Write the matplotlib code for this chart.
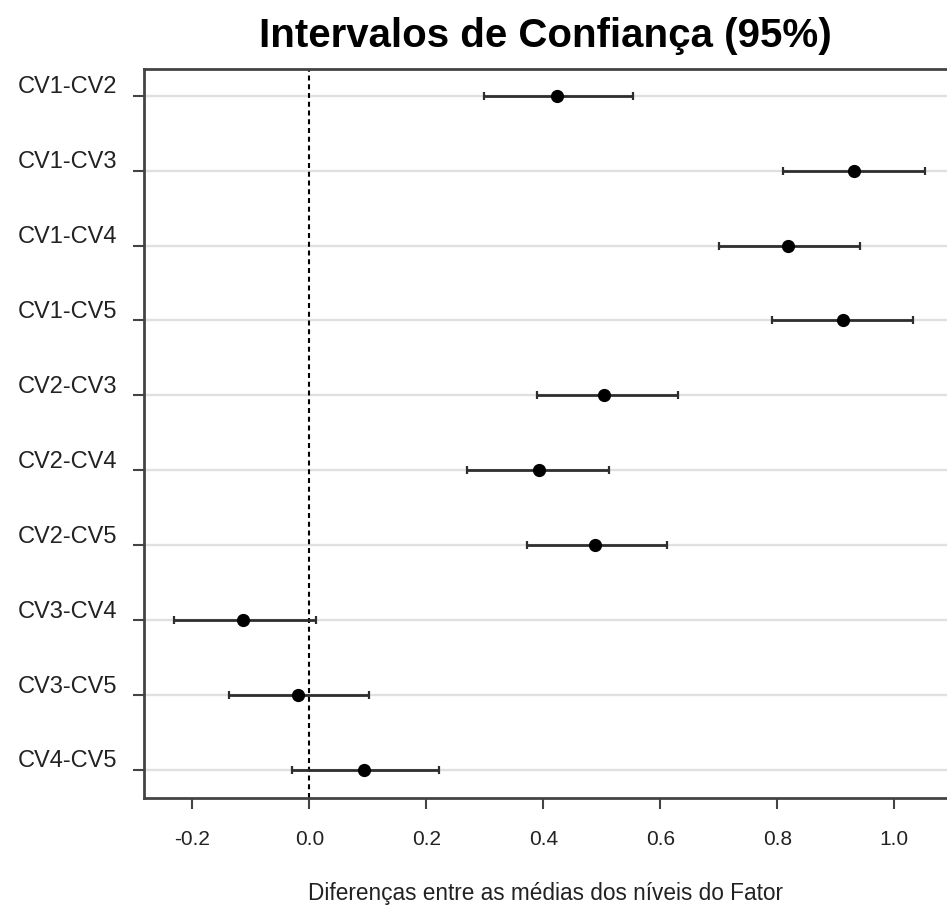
import numpy as np
import matplotlib.pyplot as plt
from matplotlib.transforms import ScaledTranslation

plt.rcParams['font.family'] = ['Liberation Sans', 'DejaVu Sans']

"-----------------------------------DATA------------------------------------------"
# Pairwise comparisons (top to bottom)
comparisons = ["CV1-CV2", "CV1-CV3", "CV1-CV4", "CV1-CV5", "CV2-CV3",
               "CV2-CV4", "CV2-CV5", "CV3-CV4", "CV3-CV5", "CV4-CV5"]
# Mean differences and 95% interval limits
diff_mean = [0.424, 0.931, 0.819, 0.913, 0.504, 0.392, 0.488, -0.114, -0.019, 0.094]
ci_lower = [0.299, 0.810, 0.701, 0.791, 0.390, 0.270, 0.372, -0.231, -0.138, -0.029]
ci_upper = [0.553, 1.052, 0.942, 1.032, 0.631, 0.512, 0.611, 0.011, 0.102, 0.222]
x_ticks = [-0.2, 0.0, 0.2, 0.4, 0.6, 0.8, 1.0]

"-----------------------------------PLOT------------------------------------------"
fig = plt.figure(figsize=(9.47, 9.08), dpi=100)
ax = fig.add_axes([144/947, 1 - 797.7/908, (947 - 144)/947, (797.7 - 69)/908])

n = len(comparisons)
ypos = np.arange(n)[::-1]
mean = np.array(diff_mean)
err = np.vstack([mean - np.array(ci_lower), np.array(ci_upper) - mean])

#Light horizontal guide lines
for y in ypos:
    ax.axhline(y, color='#e0e0e0', lw=1.7, zorder=0)

#Reference line at zero
ax.axvline(0, color='black', lw=1.5, linestyle=(0, (2.4, 1.8)), zorder=1)

#Intervals and means
ax.errorbar(mean, ypos, xerr=err, fmt='o', color='black', ecolor='#2e2e2e',
            elinewidth=2.0, capsize=3, capthick=1.6, markersize=8.5, zorder=3)

ax.set_xlim((144 - 309.3)/585, (947 - 309.3)/585)
ax.set_ylim(-0.37, n - 1 + 0.357)

ax.set_xticks(x_ticks)
ax.set_xticklabels(["{:.1f}".format(v) for v in x_ticks], fontsize=15, color='#222222')
ax.set_yticks(ypos)
ax.set_yticklabels(comparisons, fontsize=17, color='#222222')

ax.tick_params(axis='x', length=8, width=1.5, color='#444444', pad=15, direction='out')
ax.tick_params(axis='y', length=8, width=1.5, color='#444444', pad=11, direction='out')

#Shift y labels up a bit, as in the original figure
offset = ScaledTranslation(0, 11/100, fig.dpi_scale_trans)
for lbl in ax.get_yticklabels():
    lbl.set_transform(lbl.get_transform() + offset)

for side in ['left', 'bottom', 'top']:
    ax.spines[side].set_color('#444444')
    ax.spines[side].set_linewidth(2)
ax.spines['right'].set_visible(False)

ax.set_xlabel("Diferenças entre as médias dos níveis do Fator", fontsize=16.3,
              color='#222222', labelpad=24)

fig.text(0.5 * (144 + 947)/947, 1 - 47/908, "Intervalos de Confiança (95%)",
         ha='center', va='baseline', fontsize=29, fontweight='bold')

plt.savefig("out.png", dpi=100)
